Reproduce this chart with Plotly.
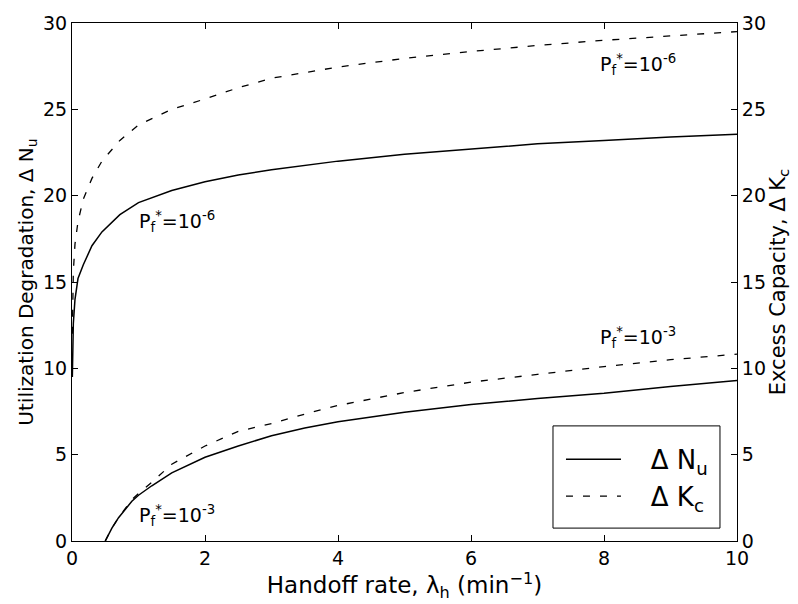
import plotly.graph_objects as go

# Handoff rate (1/min) sample points for the P_f* = 1e-6 curves
rate_e6 = [0.005, 0.01, 0.02, 0.045, 0.09, 0.17, 0.3, 0.45, 0.72, 1.0, 1.5,
           2, 2.5, 3, 4, 5, 6, 7, 8, 9, 10]
nu_e6 = [9.5, 11.2, 12.6, 14.0, 15.2, 16.0, 17.1, 17.9, 18.9, 19.6, 20.3,
         20.8, 21.2, 21.5, 22.0, 22.4, 22.7, 23.0, 23.2, 23.4, 23.55]
kc_e6 = [12.0, 14.0, 15.6, 17.2, 18.5, 19.8, 21.0, 22.0, 23.2, 24.1, 25.0,
         25.6, 26.25, 26.8, 27.45, 27.95, 28.35, 28.7, 29.0, 29.25, 29.5]

# Handoff rate sample points for the P_f* = 1e-3 curves
rate_e3 = [0.5, 0.6, 0.7, 0.8, 0.9, 1.0, 1.2, 1.5, 2, 2.5, 3, 3.5, 4,
           5, 6, 7, 8, 9, 10]
nu_e3 = [0, 0.75, 1.35, 1.85, 2.3, 2.65, 3.2, 3.95, 4.85, 5.5, 6.1, 6.55, 6.9,
         7.45, 7.9, 8.25, 8.55, 8.95, 9.3]
kc_e3 = [0, 0.75, 1.35, 1.9, 2.4, 2.75, 3.4, 4.45, 5.5, 6.35, 6.8, 7.35, 7.85,
         8.6, 9.2, 9.65, 10.1, 10.5, 10.82]

x_ticks = [0, 2, 4, 6, 8, 10]
y_ticks = [0, 5, 10, 15, 20, 25, 30]

FONT = "DejaVu Sans"
solid = dict(color="black", width=1.5)
dashed = dict(color="black", width=1.3, dash="7px,10px")
NB = "&nbsp;" * 3

fig = go.Figure()
fig.add_trace(go.Scatter(x=rate_e6, y=nu_e6, mode="lines", line=solid,
                         name=NB + "Δ N<sub>u</sub>", legendgroup="n"))
fig.add_trace(go.Scatter(x=rate_e3, y=nu_e3, mode="lines", line=solid,
                         showlegend=False, legendgroup="n"))
fig.add_trace(go.Scatter(x=rate_e6, y=kc_e6, mode="lines", line=dashed,
                         yaxis="y2", name=NB + "Δ K<sub>c</sub>", legendgroup="k"))
fig.add_trace(go.Scatter(x=rate_e3, y=kc_e3, mode="lines", line=dashed,
                         yaxis="y2", showlegend=False, legendgroup="k"))

labels = [
    (0.98, 18.5, "P<sub>f</sub><sup>*</sup>=10<sup>-6</sup>"),
    (7.91, 27.6, "P<sub>f</sub><sup>*</sup>=10<sup>-6</sup>"),
    (7.91, 11.8, "P<sub>f</sub><sup>*</sup>=10<sup>-3</sup>"),
    (0.98, 1.5, "P<sub>f</sub><sup>*</sup>=10<sup>-3</sup>"),
]
for lx, ly, txt in labels:
    fig.add_annotation(x=lx, y=ly, text=txt, showarrow=False, xanchor="left",
                       yanchor="middle", font=dict(family=FONT, size=19, color="black"))

axis_common = dict(showgrid=False, zeroline=False, showline=True, linecolor="black",
                   linewidth=1, ticks="inside", ticklen=6, tickcolor="black",
                   tickfont=dict(family=FONT, size=19, color="black"))

# legend frame
fig.add_shape(type="rect", xref="paper", yref="paper",
              x0=0.7233, x1=0.9744, y0=0.0249, y1=0.2222,
              line=dict(color="black", width=1), fillcolor="white", layer="below")

fig.update_layout(
    width=798, height=604,
    margin=dict(l=72, r=61, t=19, b=63),
    paper_bgcolor="white", plot_bgcolor="white",
    font=dict(family=FONT, color="black"),
    xaxis=dict(range=[0, 10], tickvals=x_ticks, mirror="ticks",
               title=dict(text="Handoff rate, λ<sub>h</sub> (min<sup>−1</sup>)",
                          font=dict(family=FONT, size=23), standoff=2),
               **axis_common),
    yaxis=dict(range=[0, 30], tickvals=y_ticks,
               title=dict(text="Utilization Degradation, Δ N<sub>u</sub>",
                          font=dict(family=FONT, size=20), standoff=4),
               **axis_common),
    yaxis2=dict(range=[0, 30], tickvals=y_ticks, overlaying="y", side="right",
                title=dict(text="Excess Capacity, Δ K<sub>c</sub>",
                           font=dict(family=FONT, size=21), standoff=2),
                **axis_common),
    legend=dict(x=0.7353, y=0.203, xanchor="left", yanchor="top",
                borderwidth=0, bgcolor="rgba(0,0,0,0)",
                font=dict(family=FONT, size=26), itemwidth=55,
                tracegroupgap=0),
    showlegend=True,
)

fig.write_html("out.html")
